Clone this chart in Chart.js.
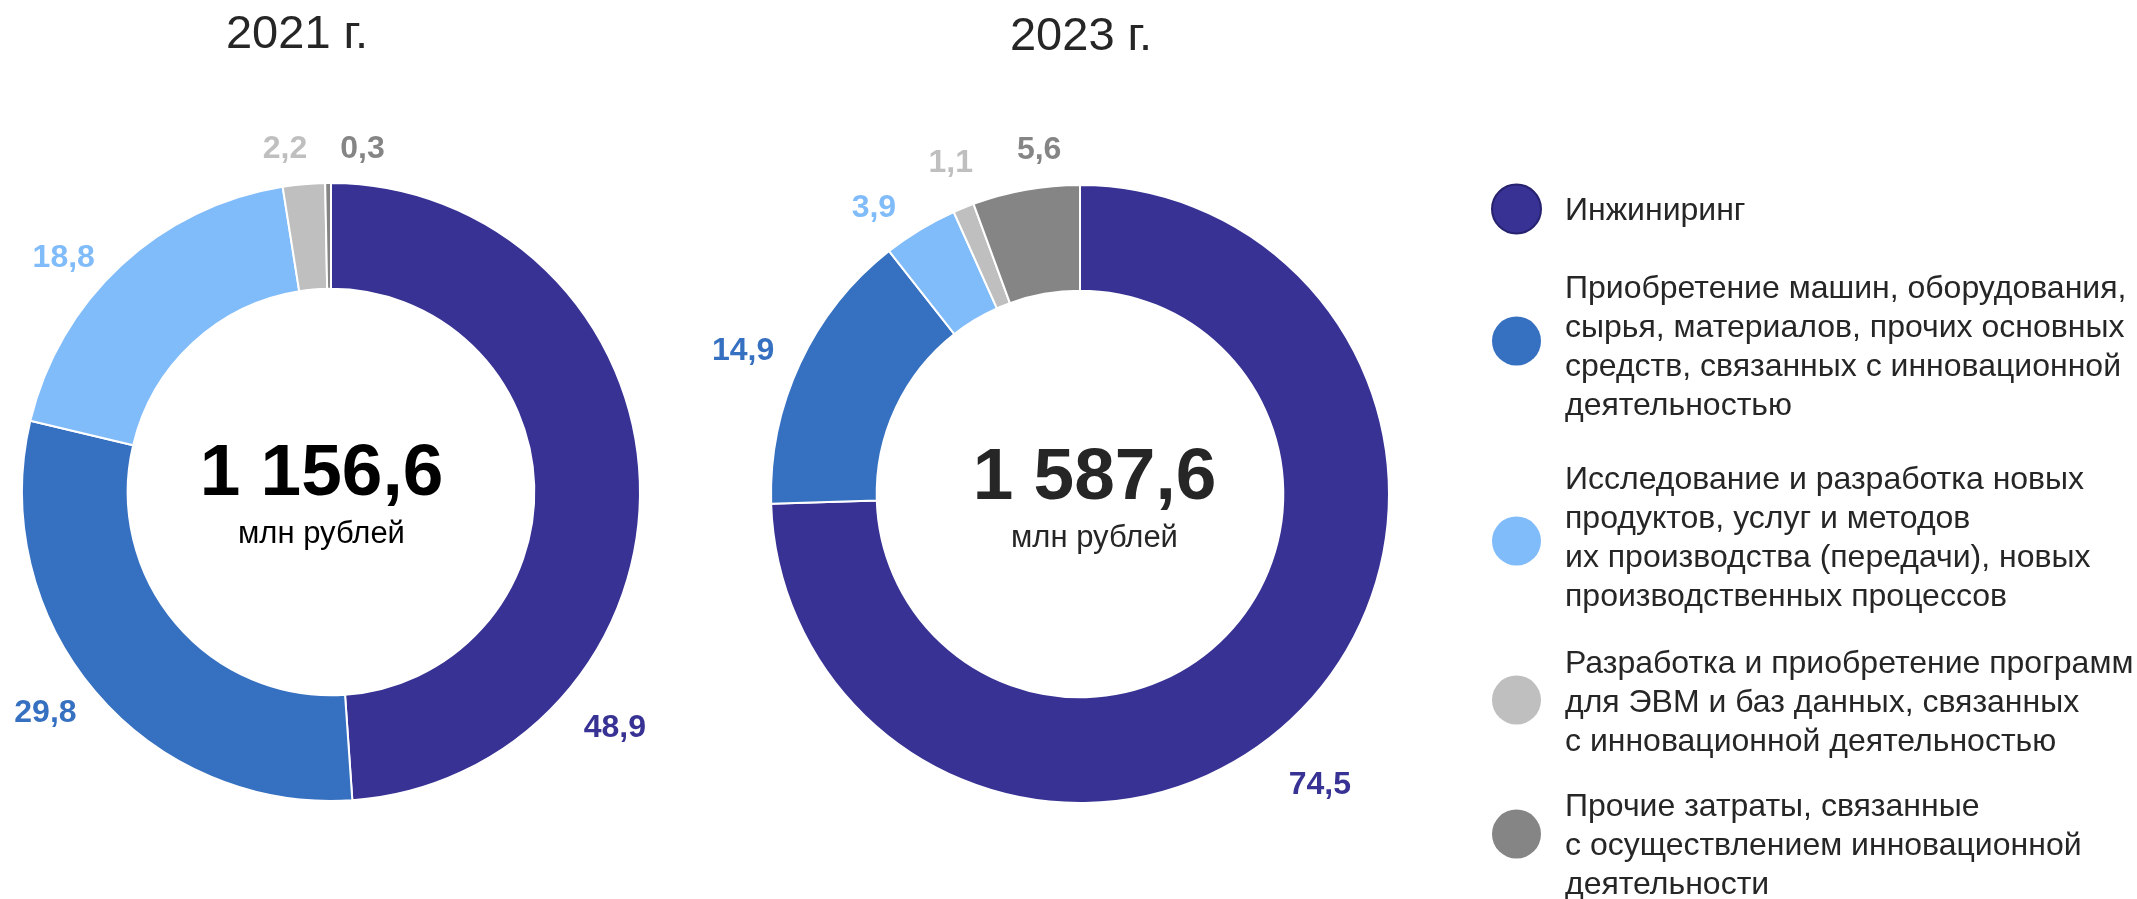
<!DOCTYPE html>
<html lang="ru">
<head>
<meta charset="utf-8">
<title>Затраты на инновации</title>
<script src="https://cdn.jsdelivr.net/npm/chart.js@4.4.1/dist/chart.umd.min.js"></script>
<style>
  html, body { margin: 0; padding: 0; background: #ffffff; }
  #wrap { position: relative; width: 2137px; height: 899px; overflow: hidden; }
  canvas { position: absolute; left: 0; top: 0; }
</style>
</head>
<body>
<div id="wrap">
  <canvas id="c2021" width="2137" height="899"></canvas>
  <canvas id="c2023" width="2137" height="899"></canvas>
</div>
<script>
// ---- data ----
const categories = [
  ['Инжиниринг'],
  ['Приобретение машин, оборудования,', 'сырья, материалов, прочих основных', 'средств, связанных с инновационной', 'деятельностью'],
  ['Исследование и разработка новых', 'продуктов, услуг и методов', 'их производства (передачи), новых', 'производственных процессов'],
  ['Разработка и приобретение программ', 'для ЭВМ и баз данных, связанных', 'с инновационной деятельностью'],
  ['Прочие затраты, связанные', 'с осуществлением инновационной', 'деятельности']
];
const years = ['2021 г.', '2023 г.'];
const totals = [1156.6, 1587.6];
const totalUnit = 'млн рублей';
const shares2021 = [48.9, 29.8, 18.8, 2.2, 0.3];
const shares2023 = [74.5, 14.9, 3.9, 1.1, 5.6];

// ---- styles ----
const colors = ['#373294', '#3670C1', '#80BBFA', '#BFBFBF', '#858585'];
const FONT = "'Liberation Sans', Arial, sans-serif";
const TEXT = '#262626';

function fmt1(v) { return v.toFixed(1).replace('.', ','); }
function fmtTotal(v) {
  const [i, d] = v.toFixed(1).split('.');
  return i.replace(/\B(?=(\d{3})+(?!\d))/g, ' ') + ',' + d;
}

const valueLabels = {
  id: 'valueLabels',
  afterDatasetsDraw(chart, args, o) {
    const ctx = chart.ctx;
    const meta = chart.getDatasetMeta(0);
    const data = chart.data.datasets[0].data;
    ctx.save();
    ctx.font = 'bold 32px ' + FONT;
    ctx.textAlign = 'center';
    ctx.textBaseline = 'middle';
    meta.data.forEach((arc, i) => {
      const p = arc.getProps(['x', 'y', 'startAngle', 'endAngle', 'outerRadius'], true);
      const a = (p.startAngle + p.endAngle) / 2 + o.shift[i] * Math.PI / 180;
      const r = p.outerRadius + o.gap[i];
      ctx.fillStyle = colors[i];
      ctx.fillText(fmt1(data[i]), p.x + Math.cos(a) * r, p.y + Math.sin(a) * r);
    });
    ctx.restore();
  }
};

const centerText = {
  id: 'centerText',
  afterDraw(chart, args, o) {
    const ctx = chart.ctx;
    const arc = chart.getDatasetMeta(0).data[0];
    const cx = arc.x + o.dx, cy = arc.y;
    ctx.save();
    ctx.textAlign = 'center';
    ctx.textBaseline = 'alphabetic';
    ctx.fillStyle = o.color;
    ctx.font = 'bold 73px ' + FONT;
    ctx.fillText(fmtTotal(o.total), cx, cy + o.dy1);
    ctx.font = '31px ' + FONT;
    ctx.fillText(totalUnit, cx, cy + o.dy2);
    // year title
    ctx.fillStyle = TEXT;
    ctx.font = '47px ' + FONT;
    ctx.fillText(o.title, o.titleX, o.titleY);
    ctx.restore();
  }
};

const sideLegend = {
  id: 'sideLegend',
  afterDraw(chart, args, o) {
    if (!o.show) return;
    const ctx = chart.ctx;
    ctx.save();
    categories.forEach((lines, i) => {
      ctx.beginPath();
      ctx.arc(o.markerX, o.markerY[i], o.markerR, 0, Math.PI * 2);
      ctx.fillStyle = colors[i];
      ctx.fill();
      if (i === 0) { ctx.lineWidth = 2; ctx.strokeStyle = '#27226F'; ctx.stroke(); }
      ctx.fillStyle = TEXT;
      ctx.font = '32px ' + FONT;
      ctx.textAlign = 'left';
      ctx.textBaseline = 'middle';
      lines.forEach((t, k) => ctx.fillText(t, o.textX, o.firstLineY[i] + k * o.lineH));
    });
    ctx.restore();
  }
};

function makeChart(id, values, padding, opts) {
  return new Chart(document.getElementById(id), {
    type: 'doughnut',
    data: {
      labels: categories.map(c => c.join(' ')),
      datasets: [{
        data: values,
        backgroundColor: colors,
        borderColor: '#ffffff',
        borderWidth: 2,
        hoverOffset: 0
      }]
    },
    options: {
      responsive: false,
      animation: false,
      cutout: '65.8%',
      layout: { padding: padding },
      events: [],
      plugins: {
        legend: { display: false },
        tooltip: { enabled: false },
        valueLabels: opts.labels,
        centerText: opts.center,
        sideLegend: opts.legend || { show: false }
      }
    },
    plugins: [valueLabels, centerText, sideLegend]
  });
}

makeChart('c2021', shares2021,
  { left: 21, right: 1496, top: 182, bottom: 97 },
  {
    labels: { shift: [41.7, 2.6, -6.0, -2.6, 5.8], gap: [60, 52, 46, 37, 35] },
    center: { total: totals[0], dx: -9.5, dy1: 3, dy2: 51, color: '#000000', title: years[0], titleX: 297, titleY: 48 }
  });

makeChart('c2023', shares2023,
  { left: 770, right: 747, top: 184, bottom: 95 },
  {
    labels: { shift: [6.4, -2.0, -4.7, 0.8, 3.3], gap: [68, 57, 43, 46, 37] },
    center: { total: totals[1], dx: 14.5, dy1: 5, dy2: 53, color: TEXT, title: years[1], titleX: 1081, titleY: 50 },
    legend: {
      show: true, markerX: 1516.5, markerR: 24.5,
      markerY: [209, 341, 541, 700, 834],
      textX: 1565, firstLineY: [211, 289, 480, 664, 807], lineH: 39
    }
  });
</script>
</body>
</html>
